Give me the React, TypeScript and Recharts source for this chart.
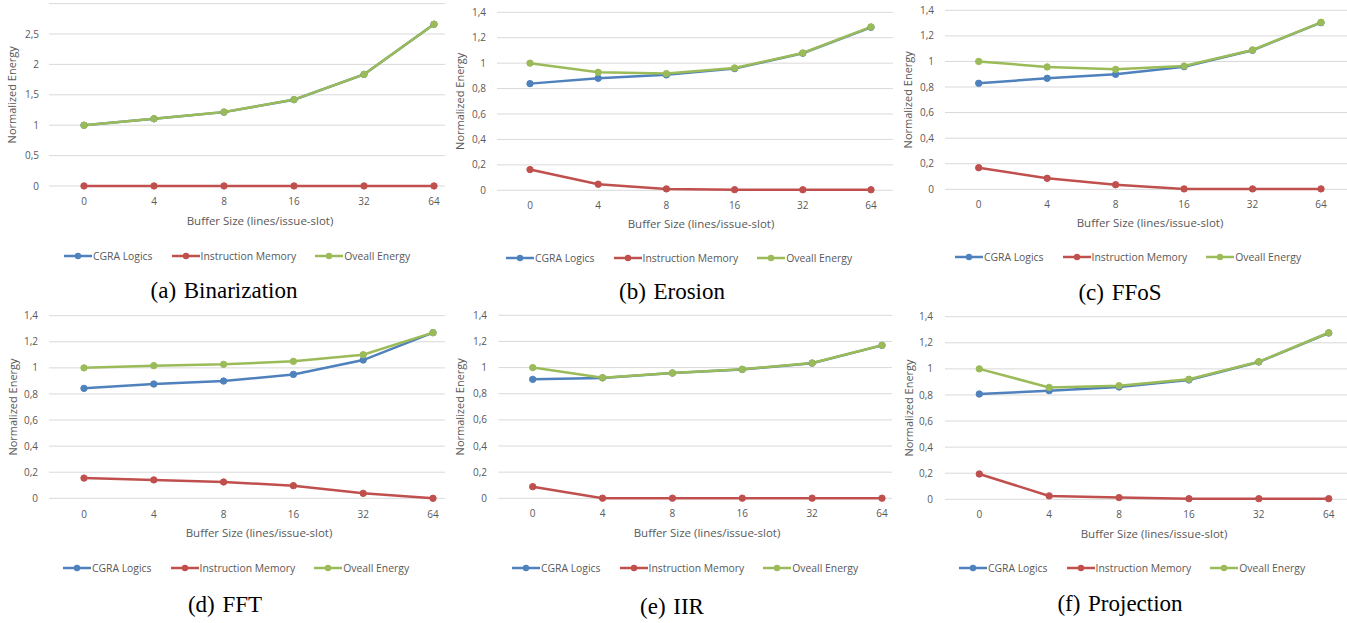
import React from 'react';
import { LineChart, Line, XAxis, YAxis, CartesianGrid, Legend } from 'recharts';

const bufferSizes = ['0', '4', '8', '16', '32', '64'];
const seriesNames = ['CGRA Logics', 'Instruction Memory', 'Oveall Energy'];
const xTitle = 'Buffer Size (lines/issue-slot)';
const yTitle = 'Normalized Energy';

const ticksBinarization = [0, 0.5, 1, 1.5, 2, 2.5];
const ticksOther = [0, 0.2, 0.4, 0.6, 0.8, 1, 1.2, 1.4];

// (a) Binarization
const binCgra = [0.999, 1.105, 1.215, 1.42, 1.835, 2.66];
const binIm = [0.001, 0.001, 0.001, 0.001, 0.001, 0.001];
const binOverall = [1.0, 1.106, 1.216, 1.421, 1.836, 2.661];

// (b) Erosion
const eroCgra = [0.839, 0.881, 0.908, 0.957, 1.078, 1.282];
const eroIm = [0.163, 0.048, 0.011, 0.005, 0.004, 0.004];
const eroOverall = [1.0, 0.928, 0.918, 0.962, 1.08, 1.285];

// (c) FFoS
const ffosCgra = [0.829, 0.868, 0.899, 0.959, 1.087, 1.303];
const ffosIm = [0.169, 0.086, 0.036, 0.003, 0.003, 0.003];
const ffosOverall = [1.0, 0.957, 0.938, 0.964, 1.09, 1.306];

// (d) FFT
const fftCgra = [0.843, 0.876, 0.899, 0.95, 1.06, 1.27];
const fftIm = [0.155, 0.141, 0.125, 0.097, 0.038, 0.0];
const fftOverall = [1.0, 1.017, 1.027, 1.05, 1.101, 1.27];

// (e) IIR
const iirCgra = [0.91, 0.921, 0.958, 0.986, 1.034, 1.17];
const iirIm = [0.089, 0.001, 0.001, 0.001, 0.001, 0.001];
const iirOverall = [1.0, 0.923, 0.959, 0.987, 1.035, 1.171];

// (f) Projection
const projCgra = [0.807, 0.833, 0.861, 0.915, 1.053, 1.275];
const projIm = [0.194, 0.026, 0.013, 0.005, 0.005, 0.005];
const projOverall = [1.0, 0.858, 0.871, 0.92, 1.055, 1.277];

const COLORS = ['#4F81BD', '#C0504D', '#9BBB59'];
const TEXT = '#595959';
const FONT = '"Open Sans", "Liberation Sans", sans-serif';

function build(cgra: number[], im: number[], overall: number[]) {
  return bufferSizes.map((b, i) => ({ size: b, cgra: cgra[i], im: im[i], overall: overall[i] }));
}

const fmt = (v: number) => String(v).replace('.', ',');

type Layout = {
  L: number; T: number; W: number;
  plotLeft: number; plotRight: number; plotTop: number; plotBottom: number;
  padL: number; padR: number;
  xTickY: number; xTitleY: number; xTitleX: number;
  yLabelX: number; yTickRight: number;
  legendY: number; legendCX: number;
  captionY: number; captionX: number;
};

type PanelDef = {
  letter: string; name: string;
  data: { size: string; cgra: number; im: number; overall: number }[];
  ymax: number; ticks: number[]; layout: Layout;
};

const panels: PanelDef[] = [
  {
    letter: '(a)', name: 'Binarization', data: build(binCgra, binIm, binOverall), ymax: 3, ticks: ticksBinarization,
    layout: { L: 0, T: 0, W: 450, plotLeft: 49, plotRight: 445, plotTop: 3.6, plotBottom: 186, padL: 35, padR: 11,
      xTickY: 201, xTitleY: 221, xTitleX: 260, yLabelX: 12, yTickRight: 39, legendY: 256, legendCX: 237, captionY: 291, captionX: 224 },
  },
  {
    letter: '(b)', name: 'Erosion', data: build(eroCgra, eroIm, eroOverall), ymax: 1.4, ticks: ticksOther,
    layout: { L: 440, T: 0, W: 455, plotLeft: 497, plotRight: 893, plotTop: 12.3, plotBottom: 190.3, padL: 33, padR: 22,
      xTickY: 205, xTitleY: 224, xTitleX: 701, yLabelX: 460, yTickRight: 486, legendY: 258, legendCX: 679, captionY: 292, captionX: 672 },
  },
  {
    letter: '(c)', name: 'FFoS', data: build(ffosCgra, ffosIm, ffosOverall), ymax: 1.4, ticks: ticksOther,
    layout: { L: 890, T: 0, W: 457, plotLeft: 945, plotRight: 1347, plotTop: 10.3, plotBottom: 189.3, padL: 33.7, padR: 26,
      xTickY: 204, xTitleY: 222.7, xTitleX: 1150, yLabelX: 908, yTickRight: 934, legendY: 257, legendCX: 1128, captionY: 293, captionX: 1120 },
  },
  {
    letter: '(d)', name: 'FFT', data: build(fftCgra, fftIm, fftOverall), ymax: 1.4, ticks: ticksOther,
    layout: { L: 0, T: 305, W: 450, plotLeft: 49, plotRight: 445, plotTop: 315.7, plotBottom: 498.3, padL: 35, padR: 12,
      xTickY: 514, xTitleY: 533, xTitleX: 259, yLabelX: 12, yTickRight: 38, legendY: 568, legendCX: 236, captionY: 605, captionX: 225 },
  },
  {
    letter: '(e)', name: 'IIR', data: build(iirCgra, iirIm, iirOverall), ymax: 1.4, ticks: ticksOther,
    layout: { L: 440, T: 305, W: 455, plotLeft: 498.3, plotRight: 892, plotTop: 315.3, plotBottom: 498.3, padL: 34.4, padR: 10,
      xTickY: 513, xTitleY: 533, xTitleX: 707, yLabelX: 460, yTickRight: 487, legendY: 568, legendCX: 685, captionY: 607, captionX: 672 },
  },
  {
    letter: '(f)', name: 'Projection', data: build(projCgra, projIm, projOverall), ymax: 1.4, ticks: ticksOther,
    layout: { L: 890, T: 305, W: 457, plotLeft: 945, plotRight: 1347, plotTop: 316.7, plotBottom: 499.3, padL: 34.3, padR: 18.3,
      xTickY: 514.3, xTitleY: 534, xTitleX: 1154, yLabelX: 908, yTickRight: 933, legendY: 568, legendCX: 1132, captionY: 604, captionX: 1120 },
  },
];

function XTitle(props: any) {
  return (
    <text x={props.tx} y={props.ty} textAnchor="middle" fill={TEXT} fontSize={11.5} fontFamily={FONT}>
      {xTitle}
    </text>
  );
}

function YTitle(props: any) {
  return (
    <text x={props.tx} y={props.ty} textAnchor="middle" dominantBaseline="central" fill={TEXT} fontSize={11}
      fontFamily={FONT} transform={`rotate(-90, ${props.tx}, ${props.ty})`}>
      {yTitle}
    </text>
  );
}

function LegendContent() {
  return (
    <div style={{ display: 'flex', justifyContent: 'center', alignItems: 'center', height: 20, fontFamily: FONT, fontSize: 10.4, color: TEXT, whiteSpace: 'nowrap' }}>
      {seriesNames.map((n, i) => (
        <div key={n} style={{ display: 'flex', alignItems: 'center', marginLeft: i === 0 ? 0 : 19 }}>
          <svg width={28} height={10} style={{ display: 'block' }}>
            <line x1={0} y1={5} x2={28} y2={5} stroke={COLORS[i]} strokeWidth={2.5} />
            <circle cx={14} cy={5} r={3.2} fill={COLORS[i]} />
          </svg>
          <span style={{ marginLeft: 1 }}>{n}</span>
        </div>
      ))}
    </div>
  );
}

function Panel({ p }: { p: PanelDef }) {
  const l = p.layout;
  const H = l.legendY + 10 - l.T;
  const xAxisH = l.legendY - 10 - l.plotBottom;
  const lw = 380;
  const dot = (c: string) => ({ r: 3.2, fill: c, stroke: c, strokeWidth: 1 });
  return (
    <div style={{ position: 'absolute', left: l.L, top: l.T, width: l.W, height: H }}>
      <LineChart width={l.W} height={H} data={p.data}
        margin={{ top: l.plotTop - l.T, right: l.L + l.W - l.plotRight, left: 0, bottom: 0 }}>
        <CartesianGrid vertical={false} stroke="#D9D9D9" strokeWidth={1} />
        <XAxis dataKey="size" type="category" axisLine={false} tickLine={false} tickSize={0}
          tickMargin={l.xTickY - l.plotBottom - 3.55} height={xAxisH} interval={0}
          padding={{ left: l.padL, right: l.padR }}
          tick={{ fill: TEXT, fontSize: 10, fontFamily: FONT }}
          label={<XTitle tx={l.xTitleX - l.L} ty={l.xTitleY - l.T + 4} />} />
        <YAxis type="number" domain={[0, p.ymax]} ticks={p.ticks} interval={0} axisLine={false} tickLine={false}
          tickSize={0} tickMargin={l.plotLeft - l.yTickRight} width={l.plotLeft - l.L}
          tickFormatter={fmt} tick={{ fill: TEXT, fontSize: 10, fontFamily: FONT }}
          label={<YTitle tx={l.yLabelX - l.L} ty={(l.plotTop + l.plotBottom) / 2 - l.T} />} />
        <Legend verticalAlign="bottom" content={<LegendContent />}
          wrapperStyle={{ left: l.legendCX - l.L - lw / 2, width: lw, height: 20, bottom: 0 }} />
        <Line type="linear" dataKey="cgra" name={seriesNames[0]} stroke={COLORS[0]} strokeWidth={2.5}
          dot={dot(COLORS[0])} activeDot={false} isAnimationActive={false} />
        <Line type="linear" dataKey="im" name={seriesNames[1]} stroke={COLORS[1]} strokeWidth={2.5}
          dot={dot(COLORS[1])} activeDot={false} isAnimationActive={false} />
        <Line type="linear" dataKey="overall" name={seriesNames[2]} stroke={COLORS[2]} strokeWidth={2.5}
          dot={dot(COLORS[2])} activeDot={false} isAnimationActive={false} />
      </LineChart>
      <div style={{ position: 'absolute', left: l.captionX - l.L - 150, top: l.captionY - l.T - 13, width: 300,
        textAlign: 'center', fontFamily: '"Liberation Serif", "DejaVu Serif", serif', fontSize: 23, lineHeight: '26px', color: '#000', whiteSpace: 'pre' }}>
        {p.letter + ' \u200a' + p.name}
      </div>
    </div>
  );
}

export default function App() {
  return (
    <div style={{ position: 'absolute', left: 0, top: 0, width: 1347, height: 623, background: '#fff', overflow: 'hidden' }}>
      {panels.map((p) => (
        <Panel key={p.name} p={p} />
      ))}
    </div>
  );
}
